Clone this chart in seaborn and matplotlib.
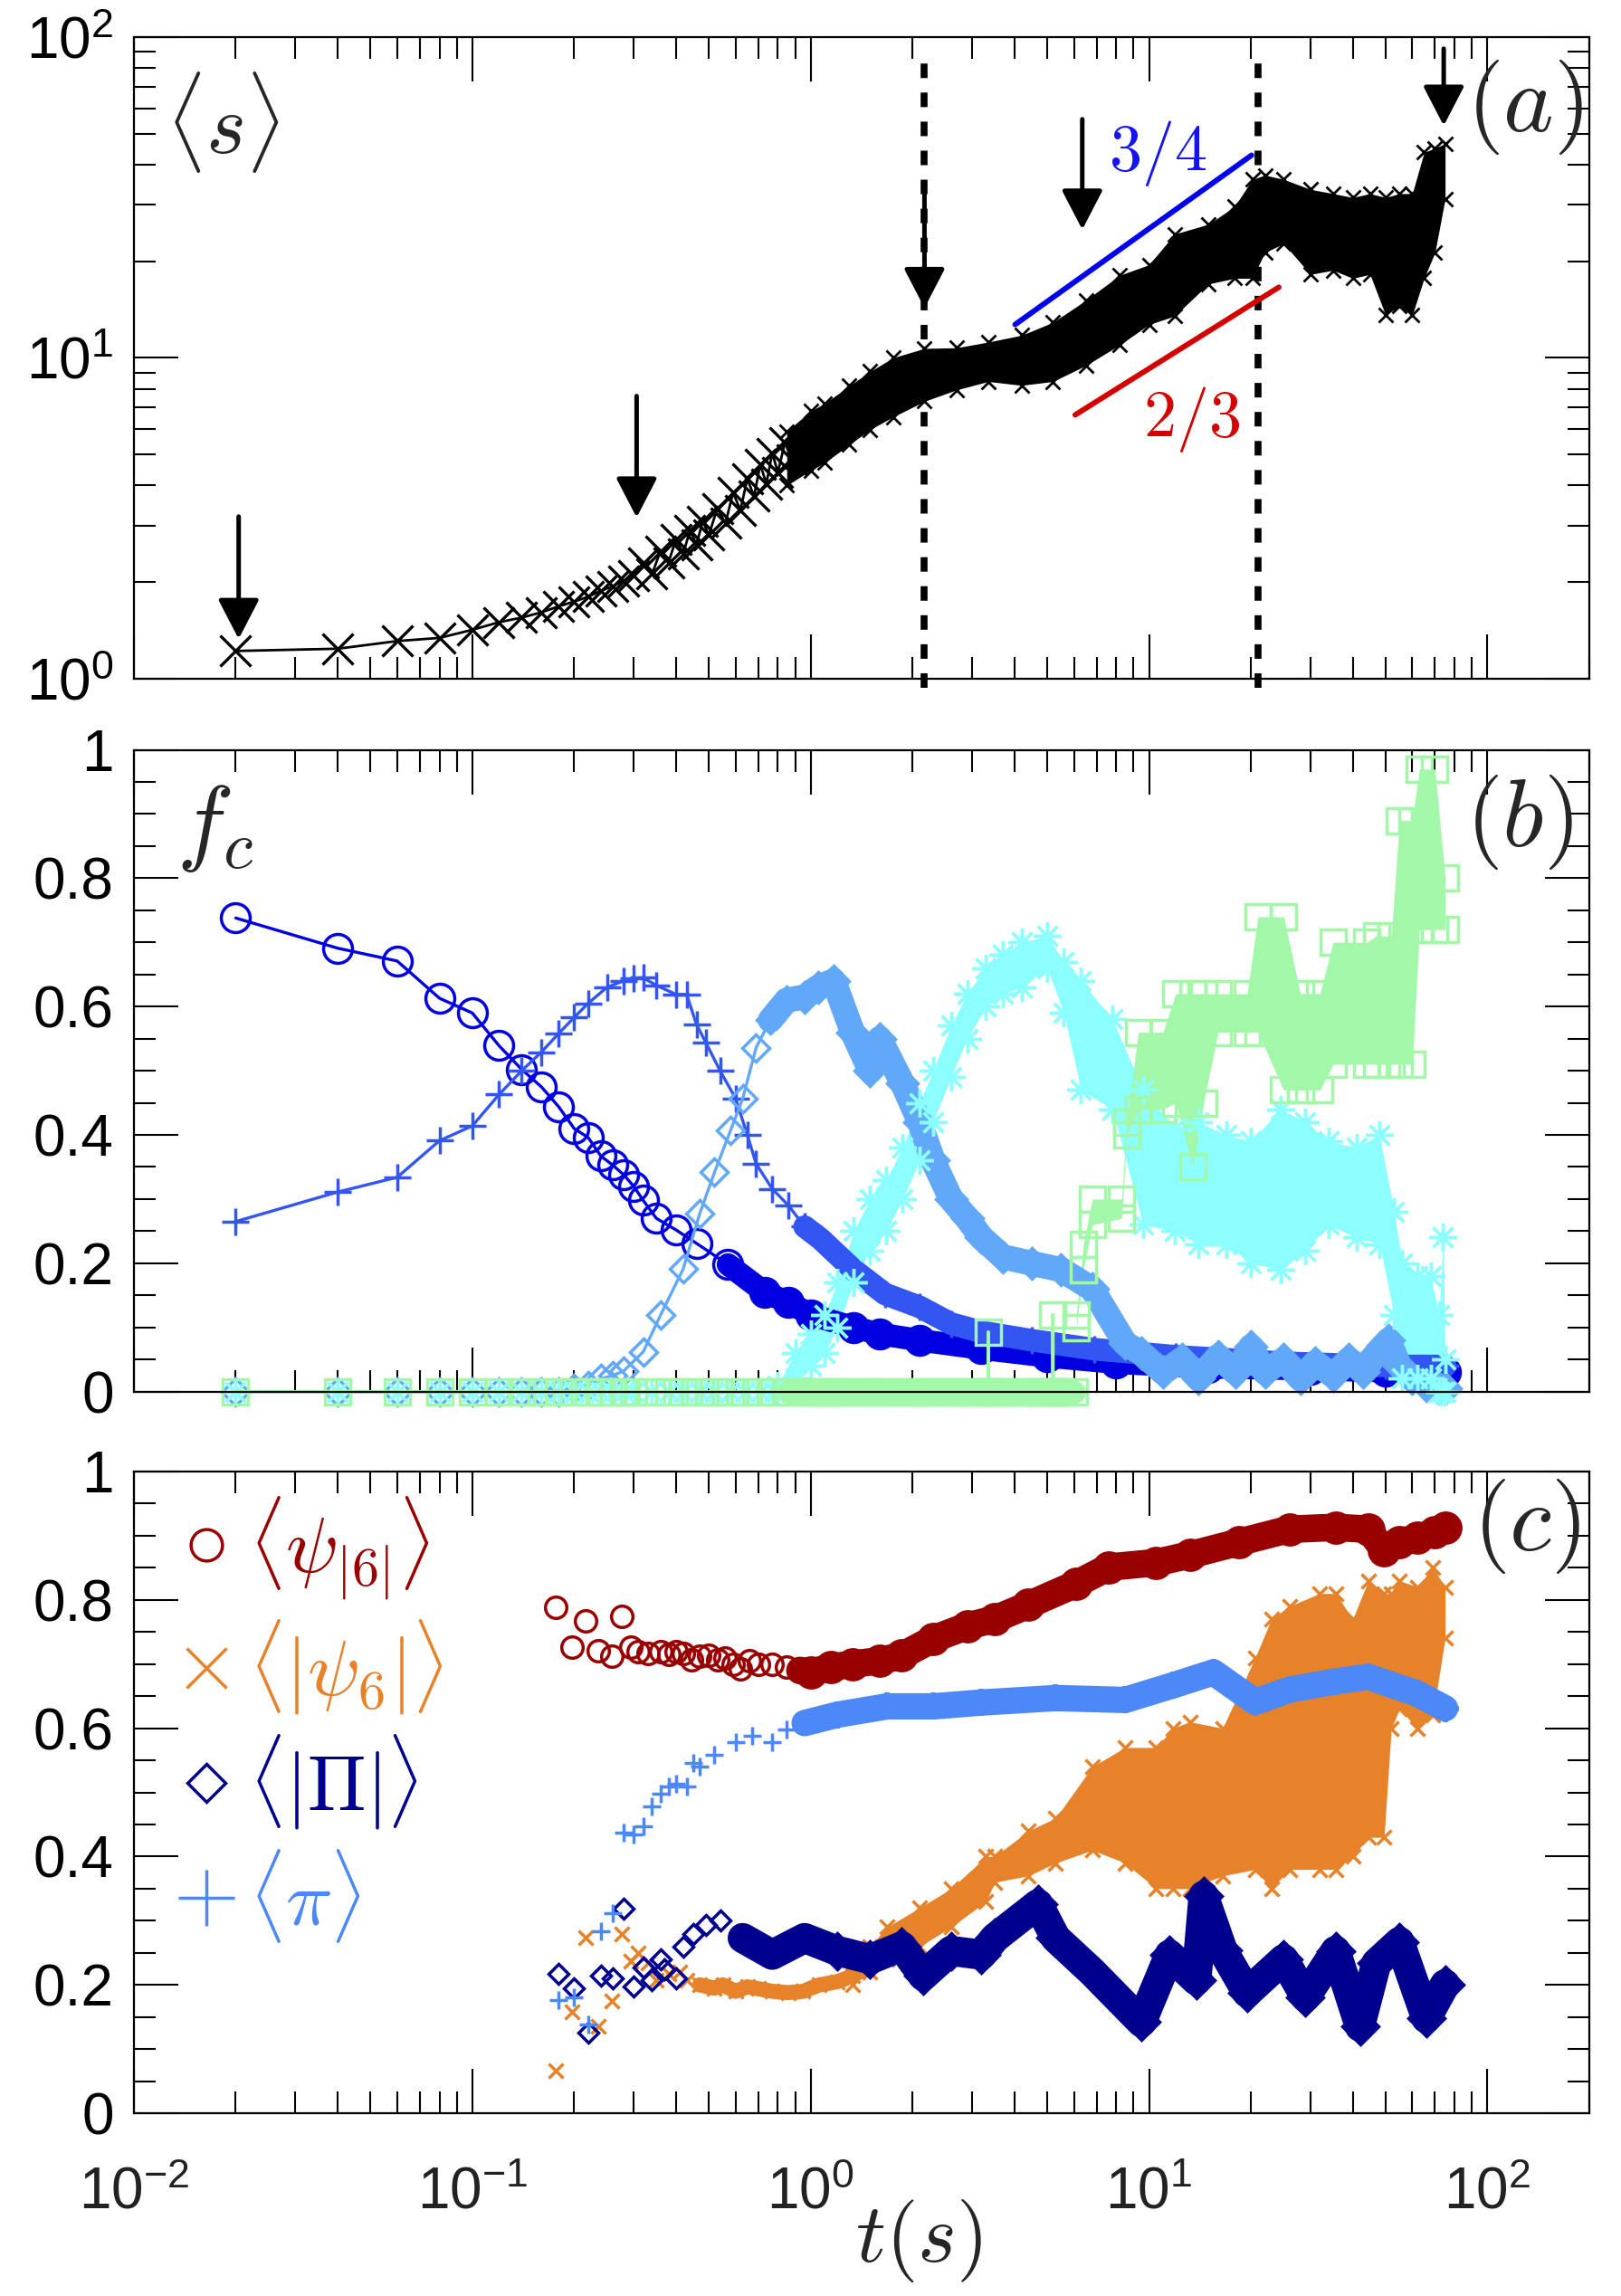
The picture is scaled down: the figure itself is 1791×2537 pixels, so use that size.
import numpy as np
import matplotlib
matplotlib.use('Agg')
import matplotlib.pyplot as plt
import seaborn as sns
from matplotlib.lines import Line2D
from matplotlib.ticker import LogLocator, MultipleLocator, FuncFormatter, NullFormatter, FixedLocator, FixedFormatter

# ===== parameters =====
TICK_FS = 46
PANEL_FS = 76
LEGEND_FS = 62
SLOPE_FS = 52
XLABEL_FS = 66
MAJ_LEN, MIN_LEN = 35, 17

sns.set_style('ticks')
plt.rcParams['font.family'] = ['Liberation Sans', 'DejaVu Sans']
plt.rcParams['mathtext.fontset'] = 'cm'
plt.rcParams['axes.edgecolor'] = 'black'
plt.rcParams['axes.linewidth'] = 1.6

# ===== data: panel (a) <s> =====
T_A = [0.02, 0.04, 0.06, 0.08, 0.10, 0.12, 0.14, 0.16, 0.18, 0.20, 0.22, 0.24, 0.26, 0.28, 0.30,
       0.32, 0.34, 0.36, 0.38, 0.40, 0.42, 0.44, 0.46, 0.48, 0.50, 0.53, 0.56, 0.59, 0.62, 0.65,
       0.68, 0.71, 0.74, 0.77, 0.80, 0.84, 0.88]
S_A = [1.22, 1.24, 1.31, 1.34, 1.42, 1.50, 1.55, 1.61, 1.68, 1.74, 1.80, 1.88, 1.94, 2.02, 2.10,
       2.30, 2.12, 2.50, 2.30, 2.72, 2.45, 2.90, 2.62, 3.10, 2.80, 3.40, 3.05, 3.80, 3.35, 4.20,
       3.70, 4.65, 4.05, 5.05, 4.40, 5.45, 4.80]
# visible envelope of the dense black band
T_A_BAND = [0.85, 1.0, 1.1, 1.3, 1.5, 1.75, 2.17, 2.7, 3.35, 4.2, 5.2, 6.5, 8.2, 10, 11.9, 15, 17.9, 20.2, 22, 25,
            30, 35, 40, 45, 50, 55, 60, 65, 70, 75]
S_A_LO = [4.0, 4.46, 4.71, 5.36, 5.98, 6.54, 7.32, 7.95, 8.44, 8.21, 8.44, 9.46, 10.98, 12.7, 13.5, 17.0, 17.7, 17.7, 21.3, 22.7,
          18.2, 18.75, 17.7, 18.2, 13.6, 14.5, 13.6, 17.7, 21.3, 31.3]
S_A_HI = [5.9, 6.83, 7.2, 8.18, 9.07, 10.0, 10.7, 10.75, 11.2, 11.76, 12.9, 15.1, 18.1, 19.5, 24.3, 26.1, 29.6, 36.0, 37.1, 36.0,
          33.5, 32.5, 31.6, 32.5, 31.6, 32.5, 32.5, 43.7, 45.0, 46.5]
T_DASH = [2.17, 21.0]
ARROW_T = [0.0204, 0.306, 2.17, 6.35, 74.3]
ARROW_TAIL = [3.2, 7.6, 33.1, 55.4, 91.9]
ARROW_TIP = [1.33, 3.18, 14.3, 25.1, 52.9]
SLOPE34_T, SLOPE34_S = [4.02, 20.1], [12.7, 42.8]
SLOPE23_T, SLOPE23_S = [6.05, 24.2], [6.64, 16.6]

# ===== data: panel (b) f_c =====
T_B_CIRC = [0.02, 0.04, 0.06, 0.08, 0.10, 0.12, 0.14, 0.16, 0.18, 0.20, 0.22, 0.24, 0.26, 0.28, 0.30, 0.32,
            0.35, 0.40, 0.46, 0.57, 0.73, 0.86, 1.0, 1.34, 1.6, 2.1, 3.2, 5.0, 8.0, 15, 30, 50, 75]
F_B_CIRC = [0.738, 0.691, 0.671, 0.613, 0.590, 0.539, 0.502, 0.475, 0.444, 0.410, 0.396, 0.367, 0.353, 0.338, 0.320, 0.298,
            0.270, 0.252, 0.231, 0.198, 0.155, 0.139, 0.120, 0.100, 0.090, 0.080, 0.067, 0.055, 0.045, 0.038, 0.035, 0.032, 0.030]
T_B_PLUS = [0.02, 0.04, 0.06, 0.08, 0.10, 0.12, 0.14, 0.16, 0.18, 0.20, 0.22, 0.25, 0.28, 0.30, 0.32, 0.35, 0.40, 0.43, 0.46, 0.49,
            0.54, 0.60, 0.65, 0.69, 0.77, 0.86, 0.96, 1.07, 1.33, 1.66, 2.1, 2.6, 3.2, 4.5, 6.9, 12, 25, 50, 75]
F_B_PLUS = [0.265, 0.311, 0.334, 0.391, 0.414, 0.463, 0.500, 0.529, 0.558, 0.583, 0.605, 0.630, 0.640, 0.644, 0.645, 0.633, 0.619, 0.619, 0.572, 0.544,
            0.500, 0.457, 0.400, 0.355, 0.316, 0.290, 0.257, 0.238, 0.191, 0.152, 0.132, 0.106, 0.093, 0.080, 0.066, 0.055, 0.045, 0.040, 0.040]
T_B_DIAM = [0.02, 0.04, 0.06, 0.08, 0.10, 0.12, 0.14, 0.16, 0.18, 0.20, 0.22, 0.24, 0.26, 0.28, 0.32, 0.36, 0.42, 0.47, 0.52, 0.58,
            0.63, 0.69, 0.76, 0.85, 0.96, 1.05, 1.17, 1.33, 1.5, 1.6, 1.87, 2.1, 2.3, 2.6, 2.9, 3.2, 3.7, 4.5, 5.5, 6.8,
            8.5, 9.5, 11, 12.5, 14, 16, 18, 20, 22, 25, 28, 31, 35, 39, 43, 47, 51, 55, 60, 66, 72, 75]
F_B_DIAM = [0, 0, 0, 0, 0, 0, 0, 0, 0, 0.005, 0.01, 0.02, 0.025, 0.032, 0.062, 0.119, 0.191, 0.277, 0.342, 0.407,
            0.457, 0.536, 0.579, 0.610, 0.615, 0.630, 0.640, 0.560, 0.500, 0.550, 0.480, 0.420, 0.360, 0.300, 0.270, 0.240, 0.210, 0.200, 0.190, 0.160,
            0.075, 0.060, 0.030, 0.050, 0.020, 0.055, 0.030, 0.070, 0.030, 0.050, 0.020, 0.045, 0.025, 0.050, 0.030, 0.060, 0.080, 0.040, 0.020, 0.010, 0.005, 0.005]
T_B_AST0 = [0.02, 0.04, 0.06, 0.08, 0.10, 0.12, 0.14, 0.16, 0.18, 0.20, 0.22, 0.24, 0.26, 0.28, 0.30, 0.34, 0.38, 0.42, 0.47, 0.52,
            0.58, 0.64, 0.71, 0.78]
F_B_AST0 = [0, 0, 0, 0, 0, 0, 0, 0, 0, 0, 0, 0, 0, 0, 0, 0, 0, 0, 0, 0,
            0, 0, 0, 0]
T_B_AST = [0.80, 0.90, 1.0, 1.1, 1.2, 1.34, 1.5, 1.67, 1.87, 2.1, 2.3, 2.6, 2.9, 3.3, 3.7, 4.2, 5.0, 5.6, 6.3, 7.8,
           9.6, 11.9, 14, 16.9, 20, 24.5, 29, 34, 41, 48, 53, 56, 62, 68, 72, 74, 75]
F_B_AST_LO = [0.0, 0.02, 0.04, 0.06, 0.10, 0.17, 0.22, 0.25, 0.30, 0.36, 0.42, 0.49, 0.55, 0.60, 0.62, 0.63, 0.66, 0.59, 0.47, 0.44,
              0.26, 0.25, 0.23, 0.23, 0.20, 0.19, 0.22, 0.26, 0.24, 0.23, 0.12, 0.02, 0.02, 0.02, 0.0, 0.0, 0.0]
F_B_AST_HI = [0.01, 0.06, 0.09, 0.12, 0.17, 0.25, 0.30, 0.33, 0.38, 0.45, 0.50, 0.57, 0.62, 0.66, 0.68, 0.70, 0.71, 0.67, 0.64, 0.58,
              0.47, 0.41, 0.42, 0.40, 0.39, 0.44, 0.42, 0.39, 0.38, 0.40, 0.28, 0.20, 0.18, 0.18, 0.12, 0.24, 0.05]
T_B_SQ0 = [0.02, 0.04, 0.06, 0.08, 0.10, 0.12, 0.14, 0.16, 0.18, 0.20, 0.22, 0.24, 0.26, 0.28, 0.30, 0.34, 0.38, 0.42, 0.47, 0.52,
           0.58, 0.64, 0.71, 0.78, 0.86, 0.95, 1.05, 1.15, 1.27, 1.4, 1.55, 1.7, 1.9, 2.1, 2.3, 2.55, 2.8, 3.1, 3.34, 3.35,
           3.36, 3.7, 4.1, 4.5, 4.9, 5.19, 5.2, 5.21, 5.6, 6.0]
F_B_SQ0 = [0, 0, 0, 0, 0, 0, 0, 0, 0, 0, 0, 0, 0, 0, 0, 0, 0, 0, 0, 0,
           0, 0, 0, 0, 0, 0, 0, 0, 0, 0, 0, 0, 0, 0, 0, 0, 0, 0, 0, 0.093,
           0, 0, 0, 0, 0, 0, 0.120, 0, 0, 0]
T_B_SQ = [6.1, 6.4, 6.8, 8.3, 8.6, 9.3, 11, 12, 13.5, 14.5, 16, 19.5, 21, 25, 28, 32, 35, 44, 47, 52, 55, 60, 63, 70, 75]
F_B_SQ_LO = [0.10, 0.19, 0.26, 0.27, 0.40, 0.44, 0.44, 0.45, 0.35, 0.45, 0.56, 0.56, 0.56, 0.47, 0.47, 0.47, 0.51, 0.51, 0.51, 0.51,
             0.51, 0.51, 0.72, 0.72, 0.72]
F_B_SQ_HI = [0.12, 0.23, 0.30, 0.30, 0.42, 0.56, 0.56, 0.62, 0.62, 0.62, 0.62, 0.62, 0.74, 0.74, 0.62, 0.62, 0.70, 0.70, 0.71, 0.71,
             0.89, 0.89, 0.97, 0.97, 0.80]

# ===== data: panel (c) order parameters =====
T_C_CIRC = [0.177, 0.197, 0.216, 0.236, 0.258, 0.276, 0.294, 0.31, 0.33, 0.36, 0.38, 0.40, 0.42, 0.445, 0.47, 0.50, 0.53, 0.557, 0.59, 0.62,
            0.66, 0.70, 0.77, 0.85, 0.93, 1.0, 1.15, 1.33, 1.6, 1.86, 2.3, 2.9, 3.5, 4.4, 6.1, 7.6, 10.5, 13.2, 18.5, 26,
            35.6, 44.5, 49.5, 55, 62, 70, 75]
F_C_CIRC = [0.788, 0.726, 0.767, 0.721, 0.712, 0.775, 0.726, 0.720, 0.717, 0.719, 0.715, 0.719, 0.716, 0.707, 0.712, 0.713, 0.706, 0.709, 0.700, 0.693,
            0.705, 0.700, 0.700, 0.695, 0.690, 0.687, 0.695, 0.700, 0.705, 0.713, 0.739, 0.759, 0.770, 0.792, 0.825, 0.851, 0.858, 0.870, 0.890, 0.910,
            0.913, 0.910, 0.877, 0.890, 0.897, 0.905, 0.913]
T_C_X = [0.177, 0.197, 0.216, 0.236, 0.258, 0.276, 0.294, 0.31, 0.33, 0.35, 0.38, 0.41, 0.43, 0.47, 0.52, 0.55, 0.60, 0.65, 0.70, 0.77,
         0.86, 0.95, 1.06, 1.2, 1.33]
F_C_X = [0.066, 0.158, 0.273, 0.135, 0.175, 0.279, 0.237, 0.250, 0.234, 0.207, 0.217, 0.220, 0.207, 0.200, 0.195, 0.200, 0.190, 0.197, 0.194, 0.190,
         0.188, 0.190, 0.200, 0.205, 0.214]
T_C_XB = [1.33, 1.5, 1.68, 2.1, 2.6, 3.3, 3.5, 4.4, 5.3, 6.8, 8.5, 10.5, 11.8, 13.2, 16.5, 20.6, 23, 26, 32, 35.6,
          40, 44.5, 49.5, 52, 55, 62, 69, 75]
F_C_XB_LO = [0.20, 0.22, 0.24, 0.26, 0.29, 0.33, 0.36, 0.37, 0.39, 0.41, 0.39, 0.35, 0.35, 0.35, 0.37, 0.38, 0.35, 0.38, 0.38, 0.38,
             0.40, 0.43, 0.43, 0.60, 0.63, 0.60, 0.62, 0.74]
F_C_XB_HI = [0.23, 0.26, 0.29, 0.32, 0.35, 0.40, 0.40, 0.44, 0.46, 0.54, 0.57, 0.57, 0.60, 0.61, 0.60, 0.71, 0.77, 0.79, 0.81, 0.81,
             0.77, 0.83, 0.81, 0.81, 0.83, 0.82, 0.85, 0.82]
T_C_DIAM = [0.18, 0.20, 0.22, 0.24, 0.26, 0.28, 0.30, 0.32, 0.34, 0.36, 0.37, 0.40, 0.42, 0.45, 0.49, 0.54, 0.63, 0.77, 0.96, 1.2,
            1.5, 1.86, 2.15, 2.6, 3.2, 3.5, 4.7, 5.3, 6.8, 9.5, 11.5, 13.8, 14.5, 16.5, 19.5, 25, 29, 35.6, 42, 47,
            55, 66, 75]
F_C_DIAM = [0.217, 0.194, 0.126, 0.214, 0.210, 0.319, 0.197, 0.227, 0.207, 0.240, 0.224, 0.210, 0.259, 0.279, 0.293, 0.300, 0.273, 0.247, 0.273, 0.253,
            0.240, 0.260, 0.214, 0.253, 0.247, 0.273, 0.326, 0.273, 0.220, 0.142, 0.247, 0.207, 0.339, 0.254, 0.188, 0.240, 0.181, 0.253, 0.135, 0.234,
            0.267, 0.148, 0.201]
T_C_PLUS = [0.18, 0.20, 0.22, 0.24, 0.26, 0.28, 0.30, 0.32, 0.34, 0.36, 0.38, 0.40, 0.43, 0.45, 0.47, 0.52, 0.60, 0.67, 0.77, 0.85,
            0.96, 1.2, 1.68, 2.3, 3.2, 5.3, 8.5, 11.8, 15.5, 20.6, 26, 35.6, 44.5, 62, 75]
F_C_PLUS = [0.176, 0.180, 0.138, 0.284, 0.312, 0.437, 0.434, 0.447, 0.478, 0.498, 0.509, 0.513, 0.509, 0.546, 0.540, 0.559, 0.578, 0.588, 0.578, 0.598,
            0.608, 0.621, 0.634, 0.634, 0.640, 0.647, 0.644, 0.667, 0.687, 0.641, 0.660, 0.673, 0.680, 0.654, 0.631]

Y_TICKS = [0, 0.2, 0.4, 0.6, 0.8, 1]
Y_TICKLABELS = ['0', '0.2', '0.4', '0.6', '0.8', '1']
LEGEND_LABELS = [r'$\langle\psi_{|6|}\rangle$', r'$\langle|\psi_6|\rangle$', r'$\langle|\Pi|\rangle$', r'$\langle\pi\rangle$']

# colours
C_CIRC, C_PLUS, C_DIAM, C_AST, C_SQ = '#0000e0', '#3355f2', '#62a8f8', '#8cffff', '#a2f8a8'
C_RED, C_ORANGE, C_NAVY, C_PI = '#990000', '#e6822a', '#00008f', '#4d88f8'

AST = (8, 2, 0)   # 8-spoke asterisk


def pow_label(v, pos):
    return r'$\mathregular{10^{%d}}$' % int(round(np.log10(v)))


def style_axis(ax, show_x):
    ax.set_xscale('log')
    ax.set_xlim(0.01, 200)
    ax.xaxis.set_major_locator(LogLocator(base=10, numticks=12))
    ax.xaxis.set_minor_locator(LogLocator(base=10, subs=np.arange(2, 10), numticks=120))
    ax.xaxis.set_major_formatter(FuncFormatter(pow_label))
    ax.xaxis.set_minor_formatter(NullFormatter())
    ax.tick_params(which='both', direction='in', top=True, right=True, width=1.5, color='k')
    ax.tick_params(which='major', length=MAJ_LEN, labelsize=TICK_FS)
    ax.tick_params(which='minor', length=MIN_LEN)
    ax.tick_params(axis='y', pad=16, labelcolor='k')
    ax.tick_params(axis='x', pad=42, labelbottom=show_x, labelcolor='#222222')
    ax.set_xlabel('')
    ax.set_ylabel('')


def pts(ax, t, y, color, marker, ms, mew=2.5, lw=0.0, mfc='none', tmin=0.0, **kw):
    # markers (optionally joined by a thin line)
    t = np.asarray(t, float)
    y = np.asarray(y, float)
    m = t >= tmin
    sns.lineplot(x=t[m], y=y[m], ax=ax, color=color, marker=marker, markersize=ms,
                 mew=mew, mec=color, mfc=mfc, lw=lw, linestyle='-' if lw > 0 else 'none',
                 estimator=None, sort=False, errorbar=None, legend=False, **kw)


def tube(ax, t, y, color, lw, tmin, **kw):
    # thick band where the markers pile up
    t = np.asarray(t, float)
    y = np.asarray(y, float)
    m = t >= tmin
    sns.lineplot(x=t[m], y=y[m], ax=ax, color=color, lw=lw, solid_capstyle='round',
                 solid_joinstyle='round', estimator=None, sort=False, errorbar=None, legend=False, **kw)


fig = plt.figure(figsize=(17.91, 25.37), dpi=100)
ax_a = fig.add_axes([0.0826, 0.7044, 0.8978, 0.2795])
ax_b = fig.add_axes([0.0826, 0.3939, 0.8978, 0.2795])
ax_c = fig.add_axes([0.0826, 0.0796, 0.8978, 0.2795])

# ----- (a) -----
ax_a.set_yscale('log')
ax_a.set_ylim(1, 100)
ax_a.yaxis.set_major_locator(LogLocator(base=10, numticks=5))
ax_a.yaxis.set_minor_locator(LogLocator(base=10, subs=np.arange(2, 10), numticks=50))
ax_a.yaxis.set_major_formatter(FuncFormatter(pow_label))
ax_a.yaxis.set_minor_formatter(NullFormatter())
style_axis(ax_a, False)

pts(ax_a, T_A, S_A, 'k', 'x', 24, mew=2.4, lw=2.0)
ax_a.fill_between(T_A_BAND, S_A_LO, S_A_HI, color='k', lw=0)
pts(ax_a, T_A_BAND, S_A_LO, 'k', 'x', 12, mew=2.0)
pts(ax_a, T_A_BAND, S_A_HI, 'k', 'x', 12, mew=2.0)

for td in T_DASH:
    ax_a.axvline(td, ymin=-0.014, ymax=0.966, color='k', lw=5.5, ls=(0, (2.1, 2.1)), clip_on=False)

for t, s0, s1 in zip(ARROW_T, ARROW_TAIL, ARROW_TIP):
    ax_a.annotate('', xy=(t, s1), xytext=(t, s0),
                  arrowprops=dict(arrowstyle='-|>,head_length=1.35,head_width=0.7', mutation_scale=20,
                                  lw=3.6, color='k', shrinkA=0, shrinkB=0))

sns.lineplot(x=SLOPE34_T, y=SLOPE34_S, ax=ax_a, color='#0000ee', lw=4.3, estimator=None, legend=False)
sns.lineplot(x=SLOPE23_T, y=SLOPE23_S, ax=ax_a, color='#d40000', lw=4.3, estimator=None, legend=False)
ax_a.text(10.6, 43.5, r'$3/4$', color='#1414ee', fontsize=SLOPE_FS, ha='center', va='center')
ax_a.text(13.4, 6.43, r'$2/3$', color='#d40000', fontsize=SLOPE_FS, ha='center', va='center')

ax_a.text(0.022, 0.867, r'$\langle s\rangle$', transform=ax_a.transAxes, fontsize=68, ha='left', va='center')
ax_a.text(0.996, 0.891, r'$(a)$', transform=ax_a.transAxes, fontsize=PANEL_FS, ha='right', va='center')

# ----- (b) -----
ax_b.set_ylim(0, 1)
ax_b.yaxis.set_major_locator(FixedLocator(Y_TICKS))
ax_b.yaxis.set_major_formatter(FixedFormatter(Y_TICKLABELS))
ax_b.yaxis.set_minor_locator(MultipleLocator(0.05))
style_axis(ax_b, False)

pts(ax_b, T_B_CIRC, F_B_CIRC, C_CIRC, 'o', 23, lw=2.4, clip_on=False)
tube(ax_b, T_B_CIRC, F_B_CIRC, C_CIRC, 18, 0.5)
pts(ax_b, T_B_CIRC, F_B_CIRC, C_CIRC, 'o', 22, mfc=C_CIRC, tmin=0.7)
pts(ax_b, T_B_PLUS, F_B_PLUS, C_PLUS, '+', 22, lw=2.4, clip_on=False)
tube(ax_b, T_B_PLUS, F_B_PLUS, C_PLUS, 18, 0.9)
pts(ax_b, T_B_DIAM, F_B_DIAM, C_DIAM, 'D', 15, lw=2.4, clip_on=False)
tube(ax_b, T_B_DIAM, F_B_DIAM, C_DIAM, 20, 0.75)
pts(ax_b, T_B_DIAM, F_B_DIAM, C_DIAM, 'D', 17, mfc=C_DIAM, tmin=0.9, clip_on=False)
pts(ax_b, T_B_AST0, F_B_AST0, C_AST, AST, 22, lw=2.4, clip_on=False)
ax_b.fill_between(T_B_AST, F_B_AST_LO, F_B_AST_HI, color=C_AST, lw=0)
pts(ax_b, T_B_AST, F_B_AST_LO, C_AST, AST, 22, clip_on=False)
pts(ax_b, T_B_AST, F_B_AST_HI, C_AST, AST, 22, clip_on=False)
pts(ax_b, T_B_SQ0, F_B_SQ0, C_SQ, 's', 20, lw=2.6, clip_on=False)
sq0_t = np.asarray(T_B_SQ0)
sq0_f = np.asarray(F_B_SQ0)
flat = sq0_f == 0
tube(ax_b, sq0_t[flat], sq0_f[flat], C_SQ, 18, 0.8, clip_on=False)
ax_b.fill_between(T_B_SQ, F_B_SQ_LO, F_B_SQ_HI, color=C_SQ, lw=0)
pts(ax_b, T_B_SQ, F_B_SQ_LO, C_SQ, 's', 20, clip_on=False)
pts(ax_b, T_B_SQ, F_B_SQ_HI, C_SQ, 's', 20, clip_on=False)

ax_b.text(0.029, 0.878, r'$f_c$', transform=ax_b.transAxes, fontsize=PANEL_FS, ha='left', va='center')
ax_b.text(0.989, 0.887, r'$(b)$', transform=ax_b.transAxes, fontsize=PANEL_FS, ha='right', va='center')

# ----- (c) -----
ax_c.set_ylim(0, 1)
ax_c.yaxis.set_major_locator(FixedLocator(Y_TICKS))
ax_c.yaxis.set_major_formatter(FixedFormatter(Y_TICKLABELS))
ax_c.yaxis.set_minor_locator(MultipleLocator(0.05))
style_axis(ax_c, True)

pts(ax_c, T_C_X, F_C_X, C_ORANGE, 'x', 12)
tube(ax_c, T_C_X, F_C_X, C_ORANGE, 12, 0.45)
ax_c.fill_between(T_C_XB, F_C_XB_LO, F_C_XB_HI, color=C_ORANGE, lw=0)
pts(ax_c, T_C_XB, F_C_XB_LO, C_ORANGE, 'x', 12)
pts(ax_c, T_C_XB, F_C_XB_HI, C_ORANGE, 'x', 12)

pts(ax_c, T_C_DIAM, F_C_DIAM, C_NAVY, 'D', 11.5)
tube(ax_c, T_C_DIAM, F_C_DIAM, C_NAVY, 24, 0.6)
pts(ax_c, T_C_DIAM, F_C_DIAM, C_NAVY, 'D', 20, mfc=C_NAVY, tmin=1.0)

pts(ax_c, T_C_PLUS, F_C_PLUS, C_PI, '+', 14)
tube(ax_c, T_C_PLUS, F_C_PLUS, C_PI, 21, 0.9)
pts(ax_c, T_C_PLUS, F_C_PLUS, C_PI, '+', 22, mew=4, tmin=1.0)

pts(ax_c, T_C_CIRC, F_C_CIRC, C_RED, 'o', 17)
tube(ax_c, T_C_CIRC, F_C_CIRC, C_RED, 22, 0.9)
pts(ax_c, T_C_CIRC, F_C_CIRC, C_RED, 'o', 24, mfc=C_RED, tmin=1.0)

ax_c.text(0.994, 0.915, r'$(c)$', transform=ax_c.transAxes, fontsize=PANEL_FS, ha='right', va='center')

handles = [
    Line2D([], [], ls='none', marker='o', ms=25, mfc='none', mec=C_RED, mew=2.5),
    Line2D([], [], ls='none', marker='x', ms=31, mfc='none', mec=C_ORANGE, mew=2.5),
    Line2D([], [], ls='none', marker='D', ms=21, mfc='none', mec=C_NAVY, mew=2.5),
    Line2D([], [], ls='none', marker='+', ms=44, mfc='none', mec=C_PI, mew=2.5),
]
leg = ax_c.legend(handles, LEGEND_LABELS, loc='upper left', bbox_to_anchor=(0.0255, 0.965),
                  frameon=False, fontsize=LEGEND_FS, handlelength=0.9, handletextpad=0.1,
                  labelspacing=0.2, borderpad=0, borderaxespad=0)
for txt, col in zip(leg.get_texts(), [C_RED, C_ORANGE, C_NAVY, C_PI]):
    txt.set_color(col)

ax_c.set_xlabel(r'$t(s)$', fontsize=XLABEL_FS)
ax_c.xaxis.set_label_coords(0.539, -0.131)

fig.savefig('out.png', dpi=100)
